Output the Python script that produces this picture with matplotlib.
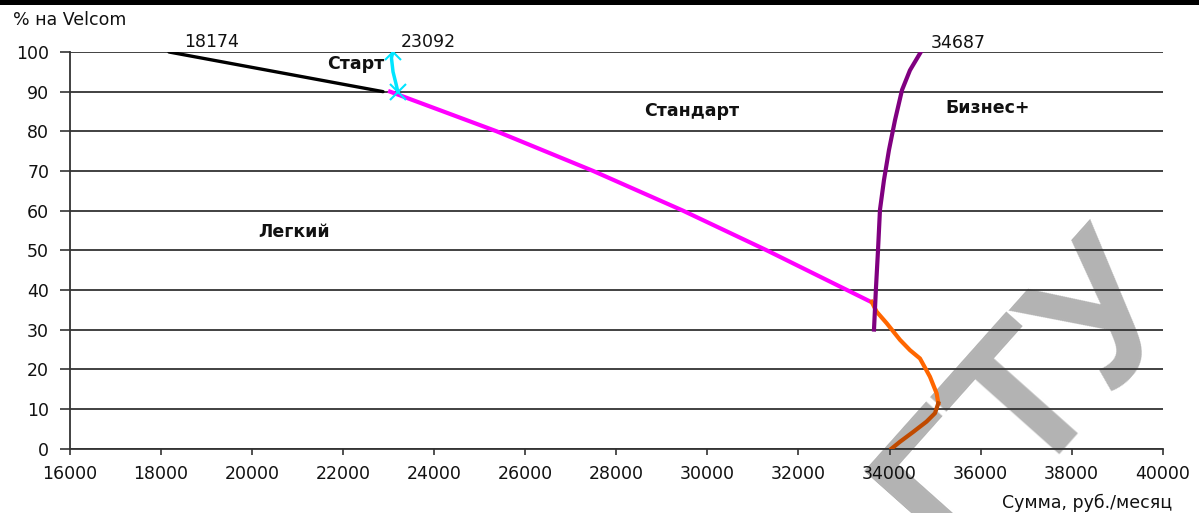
import matplotlib
matplotlib.use("Agg")
import matplotlib.pyplot as plt
from matplotlib.patches import Rectangle

# Tariff curves: monthly cost (roubles) vs share of calls within Velcom (%)
legkiy_x = [18174, 22875]
legkiy_y = [100, 90]

start_x = [23092, 23060, 23095, 23160, 23200]
start_y = [100, 98.5, 95, 92, 90]

standard_x = [23030, 25370, 27490, 29460, 31300, 33060, 33640]
standard_y = [90, 80, 70, 60, 50, 40, 36.7]

biznes_x = [33659, 33700, 33747, 33790, 33878, 33988, 34120, 34274, 34449, 34687]
biznes_y = [30, 40, 50, 60.2, 67.7, 75.3, 82.8, 90.4, 95.4, 100]

orange_x = [33607, 33717, 33937, 34230, 34449, 34669, 34888, 35035, 35071]
orange_y = [37, 34.5, 31.6, 27.4, 24.8, 22.7, 18.1, 13.9, 11.4]

brown_x = [35071, 34998, 34815, 34522, 34230, 34047]
brown_y = [11.4, 8.9, 6.8, 4.2, 1.7, 0]

x_ticks = list(range(16000, 40001, 2000))
y_ticks = list(range(0, 101, 10))

fig = plt.figure(figsize=(11.99, 5.13), dpi=100)
fig.patch.set_facecolor("white")
ax = fig.add_axes([0.05838, 0.12573, 0.91135, 0.77291])
ax.set_facecolor("none")

ax.set_xlim(16000, 40000)
ax.set_ylim(0, 100)
ax.set_xticks(x_ticks)
ax.set_yticks(y_ticks)
ax.set_xticklabels([str(v) for v in x_ticks])
ax.set_yticklabels([str(v) for v in y_ticks])

for lab in ax.get_xticklabels() + ax.get_yticklabels():
    lab.set_fontfamily("DejaVu Sans")
    lab.set_fontsize(12.5)
    lab.set_color("#111111")

ax.tick_params(axis="y", direction="out", length=7, width=1.2, pad=8, color="#333333")
ax.tick_params(axis="x", direction="out", length=4, width=1.2, pad=8, color="#333333")

for side in ("top", "right"):
    ax.spines[side].set_visible(False)
for side in ("left", "bottom"):
    ax.spines[side].set_color("#333333")
    ax.spines[side].set_linewidth(1.3)

ax.yaxis.grid(True, color="#333333", linewidth=1.3, zorder=1)
ax.set_axisbelow(True)

# tariff curves
ax.plot(legkiy_x, legkiy_y, color="black", lw=2.4, zorder=4, solid_capstyle="round")
ax.plot(standard_x, standard_y, color="#ff00ff", lw=3.0, zorder=4)
ax.plot(orange_x, orange_y, color="#ff6600", lw=3.0, zorder=4)
ax.plot(brown_x, brown_y, color="#c04a00", lw=3.0, zorder=4)
ax.plot(biznes_x, biznes_y, color="#800080", lw=3.0, zorder=5)
ax.plot(start_x, start_y, color="#00e5ff", lw=2.5, zorder=6,
        marker="x", markevery=[0, len(start_x) - 1], markersize=11,
        markeredgewidth=1.5)

# value labels
label_font = dict(family="DejaVu Sans", size=12.5, color="#111111")
ax.annotate(str(legkiy_x[0]), (legkiy_x[0], legkiy_y[0]), xytext=(11, 1),
            textcoords="offset points", ha="left", va="bottom", **label_font)
ax.annotate(str(start_x[0]), (start_x[0], start_y[0]), xytext=(6, 1),
            textcoords="offset points", ha="left", va="bottom", **label_font)
ax.annotate(str(biznes_x[-1]), (biznes_x[-1], biznes_y[-1]), xytext=(7, 0),
            textcoords="offset points", ha="left", va="bottom", **label_font)

# tariff names
name_font = dict(family="DejaVu Sans", size=12.5, weight="bold", color="#111111",
                 ha="center", va="center")
ax.text(22282, 97.0, "Старт", **name_font)
ax.text(29661, 85.1, "Стандарт", **name_font)
ax.text(36163, 85.9, "Бизнес+", **name_font)
ax.text(20920, 54.6, "Легкий", **name_font)

# axis titles
fig.text(13 / 1199, 1 - 20 / 513, "% на Velcom", family="DejaVu Sans", size=12.5,
         color="#111111", ha="left", va="center")
fig.text(1172 / 1199, 1 - 503 / 513, "Сумма, руб./месяц", family="DejaVu Sans",
         size=12.5, color="#111111", ha="right", va="center")

# faint watermark behind the plot
fig.text(953 / 1199, -48 / 513, "ГТУ", family="Liberation Sans", weight="bold",
         size=140, color="#b3b3b3", rotation=48.3, rotation_mode="anchor",
         ha="left", va="baseline", zorder=-1)

# black band along the top edge
fig.add_artist(Rectangle((0, 1 - 5 / 513), 1, 5 / 513, transform=fig.transFigure,
                         facecolor="black", edgecolor="none"))

fig.savefig("out.png", dpi=100, facecolor="white")
